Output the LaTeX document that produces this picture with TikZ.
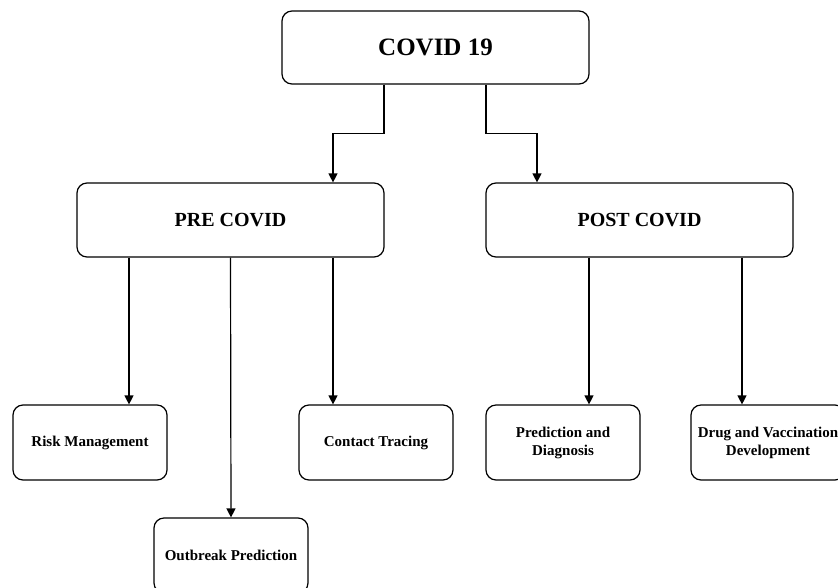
\documentclass[tikz,border=0pt]{standalone}
\usepackage{fontspec}
\setmainfont{Liberation Serif}
\usetikzlibrary{arrows.meta}

\tikzset{
  topbox/.style={draw, line width=1.2pt, rounded corners=10pt, minimum width=307pt, minimum height=73pt, font=\bfseries\fontsize{25}{29}\selectfont},
  phasebox/.style={draw, line width=1.2pt, rounded corners=10pt, minimum width=307pt, minimum height=74pt, font=\bfseries\fontsize{20}{24}\selectfont},
  areabox/.style={draw, line width=1.2pt, rounded corners=10pt, minimum width=154pt, minimum height=75pt, align=center, font=\bfseries\fontsize{15}{18}\selectfont},
  arr/.style={line width=1.2pt, -{Triangle[length=9pt,width=9pt]}}
}

\begin{document}
\begin{tikzpicture}[x=1pt,y=-1pt]
\useasboundingbox (0,0) rectangle (838,587);

\node[topbox] (covid) at (435.5,47.5) {COVID 19};

\node[phasebox] (pre) at (230.5,220) {PRE COVID};

\node[phasebox] (post) at (639.5,220) {POST COVID};

\node[areabox] (risk) at (90,442.5) {Risk Management};

\node[areabox] (contact) at (376,442.5) {Contact Tracing};

\node[areabox] (outbreak) at (231,555.5) {Outbreak Prediction};

\node[areabox] (diagnosis) at (563,442.5) {Prediction and\\Diagnosis};

\node[areabox] (drug) at (768,442.5) {Drug and Vaccination\\Development};

\draw[arr] ([xshift=-51.5pt]covid.south) -- ++(0,49) -| ([xshift=102.5pt]pre.north);
\draw[arr] ([xshift=50.5pt]covid.south) -- ++(0,49) -| ([xshift=-102.5pt]post.north);

\draw[arr] ([xshift=-101.5pt]pre.south) -- ([xshift=-101.5pt]pre.south |- risk.north);
\draw[arr] (pre.south) -- (outbreak.north);
\draw[arr] ([xshift=102.5pt]pre.south) -- ([xshift=102.5pt]pre.south |- contact.north);

\draw[arr] ([xshift=-50.5pt]post.south) -- ([xshift=-50.5pt]post.south |- diagnosis.north);
\draw[arr] ([xshift=102.5pt]post.south) -- ([xshift=102.5pt]post.south |- drug.north);

\end{tikzpicture}
\end{document}
